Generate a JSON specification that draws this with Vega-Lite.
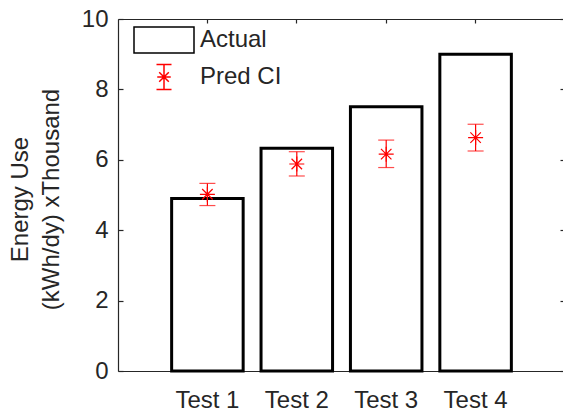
{
  "$schema": "https://vega.github.io/schema/vega-lite/v6.json",
  "width": 447,
  "height": 352,
  "autosize": {"type": "none"},
  "padding": {"left": 118, "top": 19, "right": 0, "bottom": 40},
  "background": "white",
  "datasets": {
    "main": [
      {"test": "Test 1", "actual": 4.9, "pred": 5.02, "lo": 4.7, "hi": 5.33},
      {"test": "Test 2", "actual": 6.33, "pred": 5.88, "lo": 5.54, "hi": 6.23},
      {"test": "Test 3", "actual": 7.51, "pred": 6.16, "lo": 5.78, "hi": 6.56},
      {"test": "Test 4", "actual": 9.0, "pred": 6.63, "lo": 6.25, "hi": 7.01}
    ],
    "leg": [{"series": "Actual"}, {"series": "Pred CI"}]
  },
  "config": {
    "font": "Liberation Sans",
    "view": {"stroke": null},
    "axis": {
      "labelFont": "Liberation Sans",
      "labelFontSize": 24,
      "labelColor": "#262626",
      "domain": true,
      "domainColor": "#262626",
      "tickColor": "#262626",
      "domainWidth": 1.2,
      "tickWidth": 1.2,
      "grid": false,
      "titleFont": "Liberation Sans",
      "titleFontSize": 24,
      "titleFontWeight": "normal",
      "titleColor": "#262626"
    },
    "legend": {
      "labelFont": "Liberation Sans",
      "labelFontSize": 24,
      "labelColor": "#262626"
    }
  },
  "resolve": {"axis": {"x": "independent", "y": "independent"}},
  "layer": [
    {
      "data": {"name": "main"},
      "mark": {"type": "bar", "fill": "white", "stroke": "black", "strokeWidth": 3},
      "encoding": {
        "x": {
          "field": "test", "type": "nominal", "sort": null,
          "scale": {"paddingInner": 0.2, "paddingOuter": 0.6},
          "axis": {"orient": "bottom", "title": null, "labelAngle": 0, "tickSize": -4, "labelPadding": 21, "domain": true}
        },
        "y": {
          "field": "actual", "type": "quantitative",
          "scale": {"domain": [0, 10], "nice": false},
          "axis": {
            "orient": "left", "values": [0, 2, 4, 6, 8, 10], "tickSize": -5, "labelPadding": 15, "domain": true,
            "title": ["Energy Use", "(kWh/dy) xThousand"], "titleLineHeight": 31, "titlePadding": 18, "titleY": 180
          }
        }
      }
    },
    {
      "data": {"name": "main"},
      "mark": {"type": "rule", "color": "red", "strokeWidth": 1.2},
      "encoding": {
        "x": {"field": "test", "type": "nominal", "sort": null,
          "axis": {"orient": "top", "title": null, "labels": false, "tickSize": -4, "domain": true}},
        "y": {"field": "lo", "type": "quantitative",
          "axis": {"orient": "right", "title": null, "labels": false, "domain": false, "values": [0, 2, 4, 6, 8, 10], "tickSize": -5}},
        "y2": {"field": "hi"}
      }
    },
    {
      "data": {"name": "main"},
      "mark": {"type": "tick", "color": "red", "size": 16, "thickness": 1.2},
      "encoding": {
        "x": {"field": "test", "type": "nominal", "sort": null, "axis": null},
        "y": {"field": "lo", "type": "quantitative", "axis": null}
      }
    },
    {
      "data": {"name": "main"},
      "mark": {"type": "tick", "color": "red", "size": 16, "thickness": 1.2},
      "encoding": {
        "x": {"field": "test", "type": "nominal", "sort": null, "axis": null},
        "y": {"field": "hi", "type": "quantitative", "axis": null}
      }
    },
    {
      "data": {"name": "main"},
      "mark": {
        "type": "point", "filled": false, "color": "red", "strokeWidth": 1.2, "opacity": 1, "size": 225,
        "shape": "M-1,0H1M0,-1V1M-0.7,-0.7L0.7,0.7M-0.7,0.7L0.7,-0.7"
      },
      "encoding": {
        "x": {"field": "test", "type": "nominal", "sort": null, "axis": null},
        "y": {"field": "pred", "type": "quantitative", "axis": null}
      }
    },
    {
      "data": {"name": "leg"},
      "mark": {"type": "point", "filled": false, "opacity": 0},
      "encoding": {
        "color": {
          "field": "series", "type": "nominal",
          "scale": {"domain": ["Actual", "Pred CI"], "range": ["black", "red"]},
          "legend": {
            "title": null, "orient": "none", "legendX": 30, "legendY": 5, "padding": 0,
            "symbolSize": 900, "symbolOpacity": 1, "labelOffset": 20, "rowPadding": 4,
            "symbolFillColor": "transparent",
            "encode": {"symbols": {"update": {"strokeWidth": {"signal": "datum.value === 'Actual' ? 3 : 1.2"}, "fill": {"value": "transparent"}}}}
          }
        },
        "shape": {
          "field": "series", "type": "nominal",
          "scale": {
            "domain": ["Actual", "Pred CI"],
            "range": [
              "M-2,-0.87H2V0.87H-2Z",
              "M0,-0.83V0.83M-0.5,-0.83H0.5M-0.5,0.83H0.5M-0.45,0H0.45M-0.32,-0.32L0.32,0.32M-0.32,0.32L0.32,-0.32"
            ]
          },
          "legend": {
            "title": null, "orient": "none", "legendX": 30, "legendY": 5, "padding": 0,
            "symbolSize": 900, "symbolOpacity": 1, "labelOffset": 20, "rowPadding": 4,
            "symbolFillColor": "transparent",
            "encode": {"symbols": {"update": {"strokeWidth": {"signal": "datum.value === 'Actual' ? 3 : 1.2"}, "fill": {"value": "transparent"}}}}
          }
        }
      }
    }
  ]
}
